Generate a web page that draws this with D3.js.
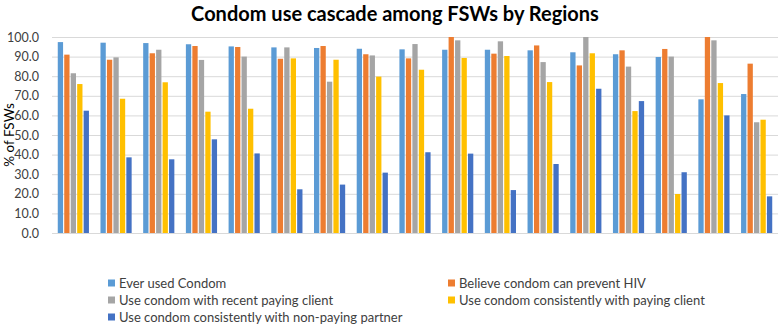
<!DOCTYPE html>
<html>
<head>
<meta charset="utf-8">
<script src="https://cdn.jsdelivr.net/npm/d3@7"></script>
<style>
  body { margin: 0; background: #fff; }
  svg text { font-family: Lato, "Open Sans", sans-serif; fill: #404040; }
</style>
</head>
<body>
<div id="chart"></div>
<script>
// region index (labels not shown on the original)
var regions = d3.range(1, 18).map(function(i) { return "R" + i; });

// series values
var everUsed     = [97.4, 97.1, 96.9, 96.3, 95.2, 94.7, 94.4, 94.0, 93.7, 93.5, 93.5, 93.2, 92.2, 91.2, 89.8, 68.2, 70.9];
var believeHIV   = [91.0, 88.4, 91.7, 95.4, 94.9, 88.9, 95.4, 91.2, 89.1, 100.0, 91.5, 95.7, 85.5, 93.2, 93.9, 100.0, 86.4];
var recentPaying = [81.5, 89.6, 93.5, 88.3, 90.0, 94.7, 77.2, 90.6, 96.4, 98.3, 97.8, 87.2, 100.0, 84.9, 90.0, 98.3, 56.5];
var consPaying   = [76.0, 68.5, 76.9, 61.9, 63.4, 89.1, 88.4, 79.8, 83.3, 89.3, 90.3, 77.0, 91.7, 62.2, 19.9, 76.5, 57.8];
var consNonPay   = [62.4, 38.6, 37.6, 47.8, 40.6, 22.3, 24.7, 30.8, 41.2, 40.5, 21.9, 35.2, 73.6, 67.3, 31.0, 60.0, 18.7];

var seriesNames = [
  "Ever used Condom",
  "Believe condom can prevent HIV",
  "Use condom with recent paying client",
  "Use condom consistently with paying client",
  "Use condom consistently with non-paying partner"
];
var seriesValues = [everUsed, believeHIV, recentPaying, consPaying, consNonPay];
var seriesColors = ["#5b9bd5", "#ed7d31", "#a5a5a5", "#ffc000", "#4472c4"];
var yTicks = [0, 10, 20, 30, 40, 50, 60, 70, 80, 90, 100];

var width = 778, height = 324;
var margin = {top: 37, right: 0, bottom: 91, left: 52};
var plotW = width - margin.left - margin.right,
    plotH = height - margin.top - margin.bottom;

var svg = d3.select("#chart").append("svg")
    .attr("width", width)
    .attr("height", height);

// title
svg.append("text")
    .attr("x", 395)
    .attr("y", 21)
    .attr("text-anchor", "middle")
    .style("font-size", "20px")
    .style("font-weight", "bold")
    .style("fill", "#000")
    .text("Condom use cascade among FSWs by Regions");

var g = svg.append("g")
    .attr("transform", "translate(" + margin.left + "," + margin.top + ")");

// scales
var x0 = d3.scaleBand()
    .domain(regions)
    .range([0, plotW])
    .paddingInner(0.27)
    .paddingOuter(0.135);
var x1 = d3.scaleBand()
    .domain(d3.range(seriesNames.length))
    .range([0, x0.bandwidth()])
    .paddingInner(0.18);
var y = d3.scaleLinear()
    .domain([0, 100])
    .range([plotH, 0]);

// gridlines
g.append("g")
    .attr("class", "grid")
    .call(d3.axisLeft(y).tickValues(yTicks).tickSize(-plotW).tickFormat(""))
    .call(function(s) {
      s.select(".domain").remove();
      s.selectAll("line").attr("stroke", "#d9d9d9");
    });

// y axis labels
g.append("g")
    .call(d3.axisLeft(y).tickValues(yTicks).tickSize(0).tickPadding(13).tickFormat(d3.format(".1f")))
    .call(function(s) {
      s.select(".domain").remove();
      s.selectAll("text")
        .style("font-size", "12.5px")
        .style("font-family", "Lato, sans-serif")
        .attr("fill", "#404040");
    });

// y axis title
svg.append("text")
    .attr("transform", "translate(14," + (margin.top + plotH / 2) + ") rotate(-90)")
    .attr("text-anchor", "middle")
    .style("font-size", "13.5px")
    .style("fill", "#000")
    .text("% of FSWs");

// bars
var rows = regions.map(function(r, i) {
  return {region: r, vals: seriesValues.map(function(s, k) { return {k: k, v: s[i]}; })};
});

var groups = g.selectAll(".region")
    .data(rows)
  .enter().append("g")
    .attr("class", "region")
    .attr("transform", function(d) { return "translate(" + x0(d.region) + ",0)"; });

groups.selectAll("rect")
    .data(function(d) { return d.vals; })
  .enter().append("rect")
    .attr("x", function(d) { return x1(d.k); })
    .attr("width", x1.bandwidth())
    .attr("y", function(d) { return y(d.v); })
    .attr("height", function(d) { return plotH - y(d.v); })
    .attr("fill", function(d) { return seriesColors[d.k]; });

// x axis line (no category labels)
g.append("g")
    .attr("transform", "translate(0," + plotH + ")")
    .call(d3.axisBottom(x0).tickSize(0).tickFormat(""))
    .call(function(s) { s.select(".domain").attr("stroke", "#d9d9d9"); });

// legend, two columns
var legendPos = [
  {x: 108, y: 283}, {x: 448, y: 283},
  {x: 108, y: 300}, {x: 448, y: 300},
  {x: 108, y: 317}
];
var legend = svg.selectAll(".legend")
    .data(seriesNames)
  .enter().append("g")
    .attr("class", "legend")
    .attr("transform", function(d, i) { return "translate(" + legendPos[i].x + "," + legendPos[i].y + ")"; });

legend.append("rect")
    .attr("x", 0)
    .attr("y", -3.5)
    .attr("width", 7)
    .attr("height", 7)
    .attr("fill", function(d, i) { return seriesColors[i]; });

legend.append("text")
    .attr("x", 11)
    .attr("dy", "0.35em")
    .style("font-size", "13px")
    .text(function(d) { return d; });
</script>
</body>
</html>
